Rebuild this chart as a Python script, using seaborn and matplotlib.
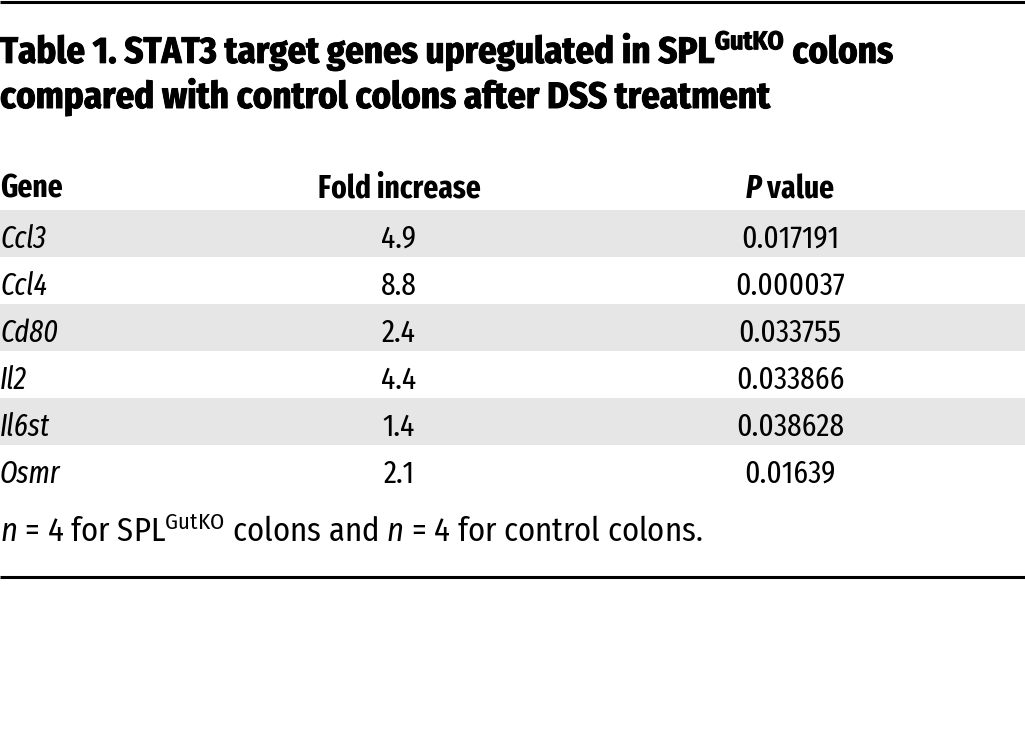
import numpy as np
import matplotlib
matplotlib.use("Agg")
import matplotlib.pyplot as plt
import matplotlib.patheffects as pe
from matplotlib.colors import ListedColormap
import seaborn as sns

# テーブルのデータ
genes = ["Ccl3", "Ccl4", "Cd80", "Il2", "Il6st", "Osmr"]
fold_increase = ["4.9", "8.8", "2.4", "4.4", "1.4", "2.1"]
p_values = ["0.017191", "0.000037", "0.033755", "0.033866", "0.038628", "0.01639"]
headers = ["Gene", "Fold increase", r"$\mathbfit{P}$ value"]

title_lines = ["Table 1. STAT3 target genes upregulated in SPL$^{\\mathbf{GutKO}}$ colons",
               "compared with control colons after DSS treatment"]
footnote = "$n$ = 4 for SPL$^{\\mathrm{GutKO}}$ colons and $n$ = 4 for control colons."

sns.set_theme(style="white")
FONT = "Fira Sans Condensed"
NARROW = "Fira Sans Extra Condensed"
plt.rcParams["font.family"] = [FONT, "DejaVu Sans"]
plt.rcParams["mathtext.fontset"] = "custom"
plt.rcParams["mathtext.rm"] = FONT
plt.rcParams["mathtext.it"] = FONT + ":italic"
plt.rcParams["mathtext.bf"] = FONT + ":bold"
plt.rcParams["mathtext.bfit"] = NARROW + ":italic:bold"

W, H = 1025, 744
fig = plt.figure(figsize=(W / 100, H / 100), dpi=100)
fig.patch.set_facecolor("white")

# 背景用の軸（ピクセル座標）
bg = fig.add_axes([0, 0, 1, 1])
bg.set_xlim(0, W)
bg.set_ylim(H, 0)
bg.axis("off")

# 上下の罫線
bg.plot([0, W], [1.5, 1.5], color="black", lw=2.2, solid_capstyle="butt")
bg.plot([0, W], [577, 577], color="black", lw=2.2, solid_capstyle="butt")

# タイトル（2行、少し太らせる）
for line, yb in zip(title_lines, [63, 108]):
    bg.text(0, yb, line, fontsize=26.5, fontweight="bold", ha="left", va="baseline",
            color="black",
            path_effects=[pe.withStroke(linewidth=0.7, foreground="black")])

# ヘッダー
col_x = [0, 399, 790]
col_ha = ["left", "center", "center"]
for x, ha, h in zip(col_x, col_ha, headers):
    bg.text(x, 198, h, fontsize=23, fontweight="bold", family=[NARROW, "DejaVu Sans"],
            ha=ha, va="baseline", color="black")

# 行の縞模様（seabornのヒートマップ）
top, bottom = 210, 492
body = fig.add_axes([0, 1 - bottom / H, 1, (bottom - top) / H])
stripes = np.array([[1 - i % 2] for i in range(len(genes))])
sns.heatmap(stripes, ax=body, cmap=ListedColormap(["white", "#e6e6e6"]), cbar=False,
            xticklabels=False, yticklabels=False, linewidths=0)
body.set_facecolor("white")

tr = body.get_yaxis_transform()
for i, (g, f, p) in enumerate(zip(genes, fold_increase, p_values)):
    y = i + 0.55
    body.text(col_x[0] / W, y, g, transform=tr, fontsize=22, style="italic",
              family=[NARROW, "DejaVu Sans"], ha="left", va="center_baseline", color="black")
    body.text(col_x[1] / W, y, f, transform=tr, fontsize=23, family=[NARROW, "DejaVu Sans"],
              ha="center", va="center_baseline", color="black")
    body.text(col_x[2] / W, y, p, transform=tr, fontsize=23, family=[NARROW, "DejaVu Sans"],
              ha="center", va="center_baseline", color="black")

# 脚注
bg.text(0, 542, footnote, fontsize=23.5, ha="left", va="baseline", color="black")

fig.savefig("out.png", dpi=100, facecolor="white")
